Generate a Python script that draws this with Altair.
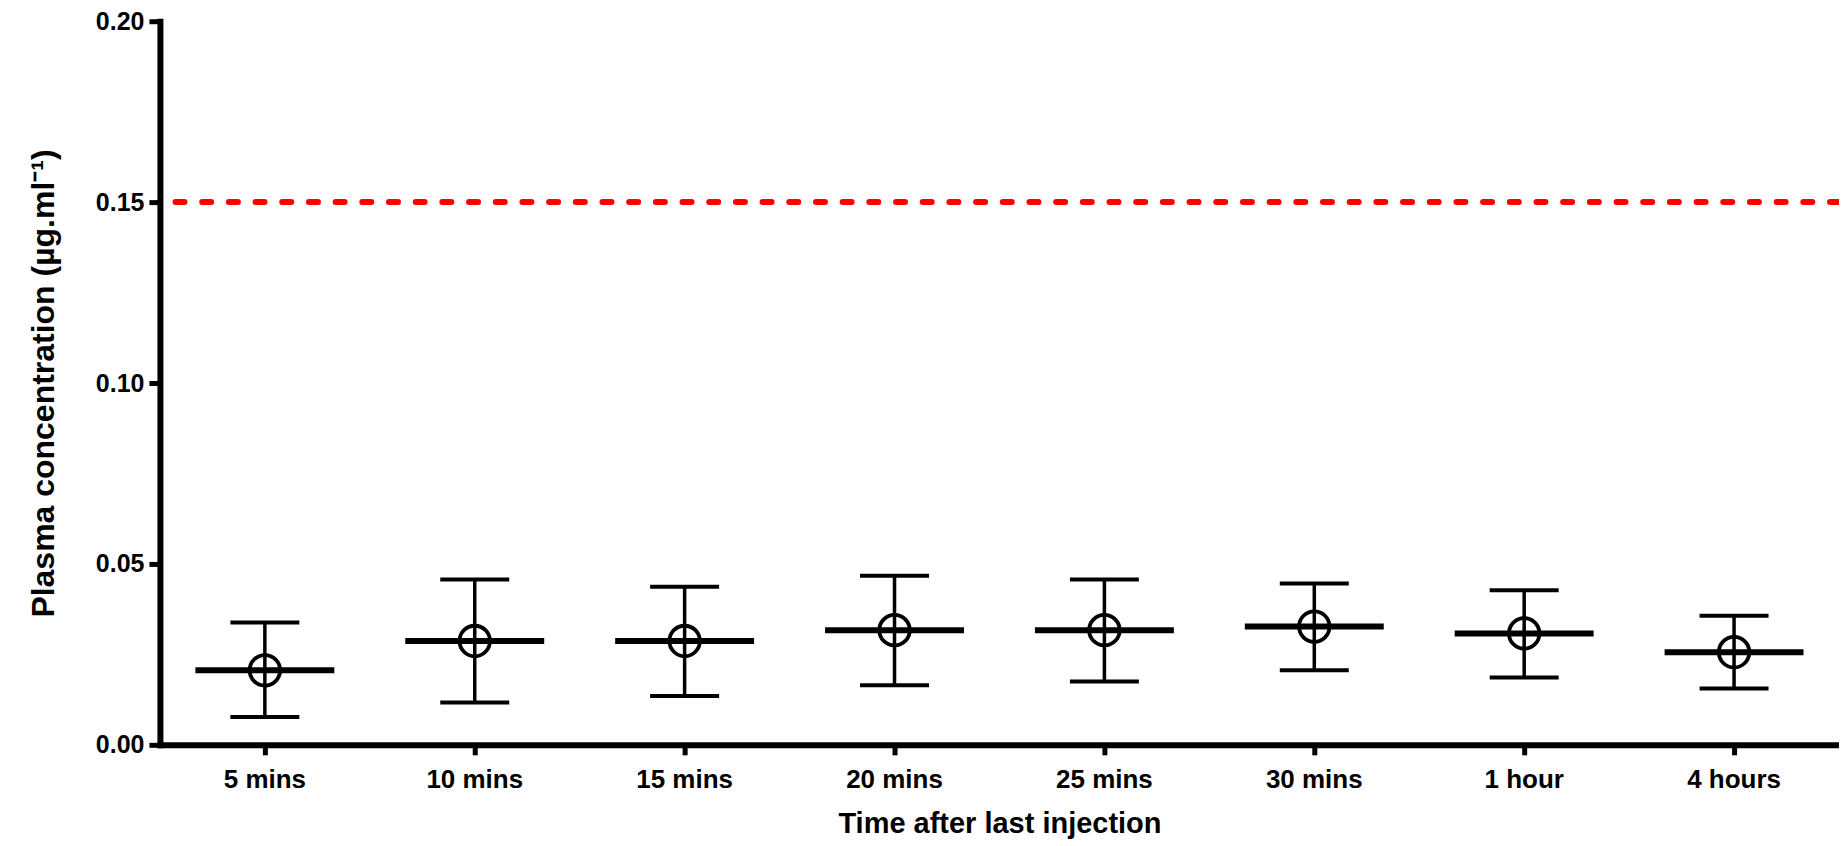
import altair as alt
import pandas as pd

times = ["5 mins", "10 mins", "15 mins", "20 mins", "25 mins", "30 mins", "1 hour", "4 hours"]
means = [0.0206, 0.0287, 0.0287, 0.0317, 0.0317, 0.0327, 0.0308, 0.0256]
lowers = [0.0077, 0.0117, 0.0135, 0.0165, 0.0175, 0.0206, 0.0186, 0.0156]
uppers = [0.0338, 0.0457, 0.0437, 0.0467, 0.0457, 0.0446, 0.0427, 0.0357]
threshold = [0.15]

df = pd.DataFrame({"time": times, "mean": means, "lower": lowers, "upper": uppers})
thr = pd.DataFrame({"value": threshold})

W, H = 1680, 724

xscale = alt.Scale(domain=times, paddingInner=0, paddingOuter=0)
yscale = alt.Scale(domain=[0, 0.2], nice=False, zero=True)

x_axis = alt.Axis(
    title="Time after last injection",
    labelFont="Liberation Sans", labelFontWeight="bold", labelFontSize=26,
    labelColor="black", labelAngle=0, labelPadding=12,
    titleFont="Liberation Sans", titleFontWeight="bold", titleFontSize=29,
    titleColor="black", titleY=79, titleBaseline="middle",
    domainColor="black", domainWidth=6, domainCap="square",
    tickColor="black", tickWidth=5, tickSize=10,
    grid=False,
)
y_axis = alt.Axis(
    title="Plasma concentration (µg.ml⁻¹)",
    values=[0, 0.05, 0.1, 0.15, 0.2], format=".2f",
    labelFont="Liberation Sans", labelFontWeight="bold", labelFontSize=25,
    labelColor="black", labelPadding=5,
    titleFont="Liberation Sans", titleFontWeight="bold", titleFontSize=32,
    titleColor="black", titleX=-116, titleBaseline="middle",
    domainColor="black", domainWidth=6, domainCap="square",
    tickColor="black", tickWidth=5, tickSize=11,
    grid=False,
)

X = alt.X("time:N", scale=xscale, axis=x_axis, sort=times)

base = alt.Chart(df)

mean_line = base.mark_tick(color="black", size=139, thickness=6, opacity=1).encode(
    x=X,
    y=alt.Y("mean:Q", scale=yscale, axis=y_axis),
)
err = base.mark_rule(color="black", strokeWidth=3.5, opacity=1).encode(
    x=X,
    y=alt.Y("lower:Q", scale=yscale, axis=y_axis),
    y2="upper:Q",
)
cap_top = base.mark_tick(color="black", size=69, thickness=4, opacity=1).encode(
    x=X,
    y=alt.Y("upper:Q", scale=yscale, axis=y_axis),
)
cap_bot = base.mark_tick(color="black", size=69, thickness=4, opacity=1).encode(
    x=X,
    y=alt.Y("lower:Q", scale=yscale, axis=y_axis),
)
circ = base.mark_point(shape="circle", filled=False, size=930, strokeWidth=3.8,
                       color="black", opacity=1).encode(
    x=X,
    y=alt.Y("mean:Q", scale=yscale, axis=y_axis),
)
thr_line = alt.Chart(thr).mark_rule(color="#ff0000", strokeWidth=6, opacity=1,
                                    strokeDash=[9, 17.7], strokeCap="round").encode(
    y=alt.Y("value:Q", scale=yscale, axis=y_axis),
)

chart = alt.layer(mean_line, thr_line, err, cap_top, cap_bot, circ).properties(
    width=W, height=H,
    background="white",
    autosize=alt.AutoSizeParams(type="none"),
    padding={"left": 152, "top": 13, "right": 0, "bottom": 100},
).configure_view(stroke=None).configure_axis(grid=False)

chart.save("out.html", embed_options={"renderer": "svg", "actions": False})
